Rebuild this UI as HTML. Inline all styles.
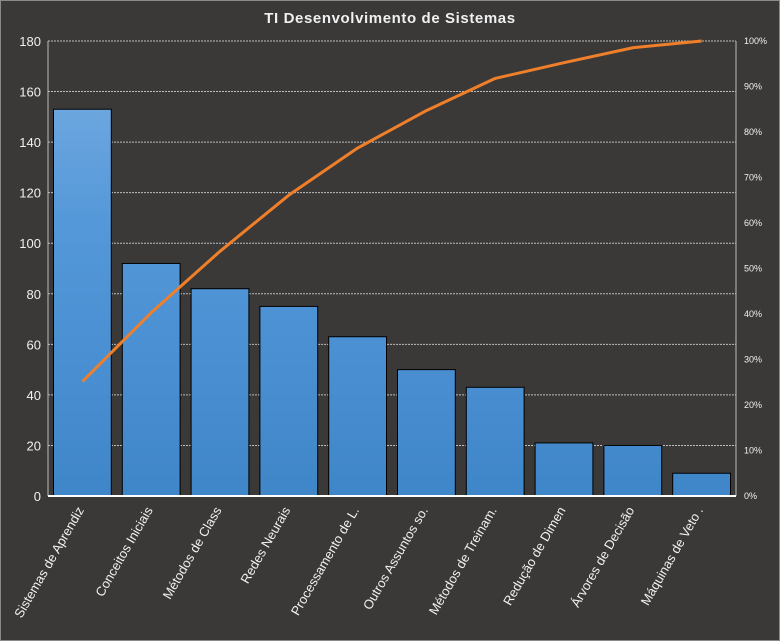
<!DOCTYPE html>
<html><head><meta charset="utf-8"><style>
body{margin:0;background:#3a3938;}
svg{display:block;font-family:"Liberation Sans",sans-serif;}
</style></head><body>
<svg id="chart" width="780" height="641">
<defs><linearGradient id="bg" gradientUnits="userSpaceOnUse" x1="0" y1="41" x2="0" y2="496"><stop offset="0" stop-color="#7aaee2"/><stop offset="0.4" stop-color="#5498d9"/><stop offset="1" stop-color="#3f86c9"/></linearGradient></defs>
<rect x="0.5" y="0.5" width="779" height="640" fill="#3a3938" stroke="#8a8a8a"/>
<text x="390" y="23" text-anchor="middle" fill="#f0f0f0" font-size="15" font-weight="bold" letter-spacing="0.6">TI Desenvolvimento  de Sistemas</text>
<g id="grid"></g><g id="bars"></g><g id="line"></g><g id="axes"></g>
</svg>
<script>
const categories=["Sistemas de Aprendiz","Conceitos Iniciais","Métodos de Class","Redes Neurais","Processamento de L.","Outros Assuntos so.","Métodos de Treinam.","Redução de Dimen","Árvores de Decisão","Máquinas de Veto ."];
const values=[153,92,82,75,63,50,43,21,20,9];
const leftTicks=[0,20,40,60,80,100,120,140,160,180];
const rightTicks=[0,10,20,30,40,50,60,70,80,90,100];
const NS="http://www.w3.org/2000/svg";
const L=48,R=736,T=41,B=496;
const slot=(R-L)/categories.length;
const y=v=>B-(v/180)*(B-T);
const yp=p=>B-(p/100)*(B-T);
const xc=i=>L+slot*(i+0.5);
function mk(tag,attrs,parent){const e=document.createElementNS(NS,tag);for(const k in attrs)e.setAttribute(k,attrs[k]);document.getElementById(parent).appendChild(e);return e;}
leftTicks.forEach(t=>{
 if(t>0){const g=mk('line',{x1:L,x2:R,y1:y(t),y2:y(t),stroke:'#bdbdbd','stroke-dasharray':'2,1','stroke-width':1},'grid');
 
 }
 const tx=mk('text',{x:L-7,y:y(t)+5,'text-anchor':'end',fill:'#f0f0f0','font-size':13},'axes');tx.textContent=t;
 
 
});
rightTicks.forEach(t=>{
 const tx=mk('text',{x:R+8,y:yp(t)+3,fill:'#f0f0f0','font-size':9},'axes');tx.textContent=t+'%';
 
 
});
const total=values.reduce((a,b)=>a+b,0);
let cum=0;const pts=[];
values.forEach((v,i)=>{
 const bw=slot-11;
 const b=mk('rect',{x:xc(i)-bw/2,y:y(v),width:bw,height:B-y(v),fill:'url(#bg)',stroke:'#000','stroke-width':1},'bars');
 
 
 cum+=v;pts.push(xc(i)+','+yp(cum/total*100));
 const tx=mk('text',{transform:`translate(${xc(i)+2},${B+14}) rotate(-60)`,'text-anchor':'end',fill:'#f0f0f0','font-size':13},'axes');tx.textContent=categories[i];
 
 
});
const pl=mk('polyline',{points:pts.join(' '),fill:'none',stroke:'#f07f2a','stroke-width':3,'stroke-linejoin':'round'},'line');


const ax=[[L,T,L,B],[R,T,R,B],[L,B,R,B]];
ax.forEach(a=>{const l=mk('line',{x1:a[0],y1:a[1],x2:a[2],y2:a[3],stroke:a[1]==B?'#ffffff':'#bdbdbd','stroke-width':a[1]==B?2:1},'axes');
 
 });
</script>
</body></html>
